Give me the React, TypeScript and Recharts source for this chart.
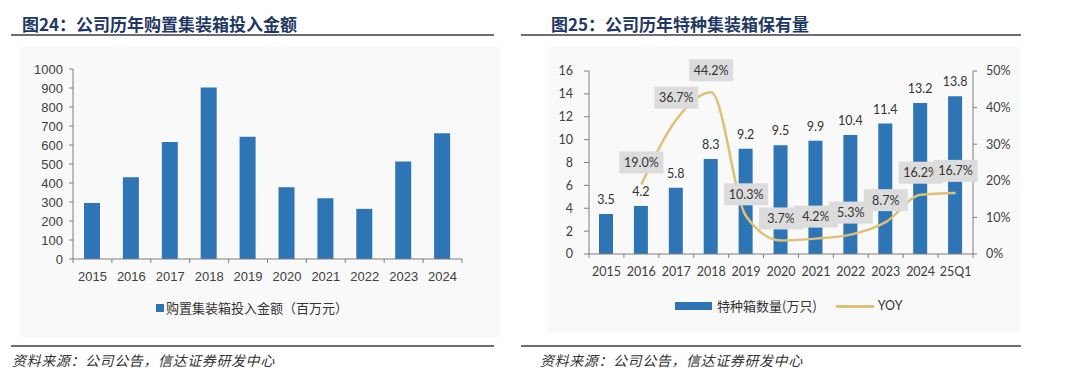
import React from "react";
import { BarChart, Bar, ComposedChart, Line, XAxis, YAxis, LabelList } from "recharts";

// 图24 data
const investYears = ["2015", "2016", "2017", "2018", "2019", "2020", "2021", "2022", "2023", "2024"];
const investAmount = [295, 430, 616, 903, 643, 377, 320, 264, 513, 662];
const investTicks = [0, 100, 200, 300, 400, 500, 600, 700, 800, 900, 1000];
const investName = "购置集装箱投入金额（百万元）";

// 图25 data
const fleetPeriods = ["2015", "2016", "2017", "2018", "2019", "2020", "2021", "2022", "2023", "2024", "25Q1"];
const fleetCount = [3.5, 4.2, 5.8, 8.3, 9.2, 9.5, 9.9, 10.4, 11.4, 13.2, 13.8];
const fleetYoy = [null, 19.0, 36.7, 44.2, 10.3, 3.7, 4.2, 5.3, 8.7, 16.2, 16.7];
const fleetTicks = [0, 2, 4, 6, 8, 10, 12, 14, 16];
const yoyTicks = [0, 10, 20, 30, 40, 50];
const fleetBarName = "特种箱数量(万只)";
const fleetLineName = "YOY";

const BLUE = "#2E75B6";
const GOLD = "#E0C074";
const AXIS = "#7F7F7F";
const TEXT = "#404040";
const TITLE = "#1F3864";
const CJK = '"Noto Sans CJK SC", sans-serif';
const ARIAL = '"Liberation Sans", Arial, sans-serif';
const CAL = 'Lato, "Noto Sans", sans-serif';

const investData = investYears.map((year, i) => ({ year, amount: investAmount[i] }));
const fleetData = fleetPeriods.map((period, i) => ({ period, count: fleetCount[i], yoy: fleetYoy[i] }));

// Excel-style ticks: marks between categories, label in the middle
function makeCategoryTick(band: number, count: number, font: string, size: number) {
  return (props: any) => {
    const { x, y, payload, index } = props;
    return (
      <g>
        <line x1={x - band / 2} x2={x - band / 2} y1={y} y2={y + 4} stroke={AXIS} />
        {index === count - 1 && (
          <line x1={x + band / 2} x2={x + band / 2} y1={y} y2={y + 4} stroke={AXIS} />
        )}
        <text x={x} y={y + 22} textAnchor="middle" fontFamily={font} fontSize={size} fill={TEXT}>
          {payload.value}
        </text>
      </g>
    );
  };
}

const yoyLabel = (props: any) => {
  const { x, y, value } = props;
  if (value == null) return null;
  return (
    <g>
      <rect x={x - 22} y={y - 33} width={44} height={22} fill="#DCDCDC" />
      <text x={x} y={y - 17.5} textAnchor="middle" fontFamily={CAL} fontSize={12.5} fill="#333">
        {`${Number(value).toFixed(1)}%`}
      </text>
    </g>
  );
};

const abs = (left: number, top: number, extra: React.CSSProperties = {}): React.CSSProperties => ({
  position: "absolute",
  left,
  top,
  ...extra,
});

function Title({ left, text }: { left: number; text: string }) {
  return (
    <div
      style={abs(left, 14, {
        fontFamily: CJK,
        fontWeight: 700,
        fontSize: 17,
        lineHeight: "20px",
        color: TITLE,
        whiteSpace: "nowrap",
      })}
    >
      {text}
    </div>
  );
}

function Rule({ left, width, top }: { left: number; width: number; top: number }) {
  return <div style={abs(left, top, { width, height: 2, background: "#6E6E6E" })} />;
}

function Source({ left }: { left: number }) {
  return (
    <div
      style={abs(left, 350, {
        fontFamily: CJK,
        fontStyle: "italic",
        fontSize: 14,
        letterSpacing: 0.6,
        lineHeight: "20px",
        color: "#333",
        whiteSpace: "nowrap",
      })}
    >
      资料来源：公司公告，信达证券研发中心
    </div>
  );
}

export default function App() {
  const leftBand = 389 / investYears.length;
  const rightBand = 384 / fleetPeriods.length;

  return (
    <div style={{ position: "absolute", left: 0, top: 0, width: 1080, height: 385, background: "#fff", overflow: "hidden" }}>
      {/* left panel */}
      <Title left={22} text="图24：公司历年购置集装箱投入金额" />
      <Rule left={11} width={483} top={34} />
      <div style={abs(20, 47, { width: 480, height: 290, background: "#F9F9F9" })}>
        <BarChart width={480} height={290} data={investData} margin={{ top: 22, right: 38, bottom: 0, left: 0 }}>
          <YAxis
            width={53}
            domain={[0, 1000]}
            ticks={investTicks}
            interval={0}
            stroke={AXIS}
            tickSize={4}
            tickMargin={6}
            tick={{ fill: TEXT, fontSize: 13, fontFamily: ARIAL }}
          />
          <XAxis
            dataKey="year"
            height={78}
            stroke={AXIS}
            tickLine={false}
            tickSize={0}
            tickMargin={0}
            interval={0}
            tick={makeCategoryTick(leftBand, investYears.length, ARIAL, 13)}
          />
          <Bar dataKey="amount" fill={BLUE} barSize={16} isAnimationActive={false} />
        </BarChart>
      </div>
      <div style={abs(156, 299, { display: "flex", alignItems: "center", whiteSpace: "nowrap" })}>
        <span style={{ width: 8, height: 8, background: BLUE, display: "inline-block", marginRight: 2 }} />
        <span style={{ fontFamily: CJK, fontSize: 13, color: "#333", lineHeight: "18px" }}>{investName}</span>
      </div>
      <Rule left={11} width={483} top={345} />
      <Source left={12} />

      {/* right panel */}
      <Title left={551} text="图25：公司历年特种集装箱保有量" />
      <Rule left={521} width={500} top={34} />
      <div style={abs(547, 47, { width: 473, height: 286, background: "#F9F9F9" })}>
        <ComposedChart width={473} height={286} data={fleetData} margin={{ top: 24, right: 0, bottom: 0, left: 0 }}>
          <YAxis
            yAxisId="count"
            width={42}
            domain={[0, 16]}
            ticks={fleetTicks}
            interval={0}
            stroke={AXIS}
            tickSize={5}
            tickMargin={11}
            tick={{ fill: TEXT, fontSize: 12.5, fontFamily: CAL }}
          />
          <YAxis
            yAxisId="yoy"
            orientation="right"
            width={47}
            domain={[0, 50]}
            ticks={yoyTicks}
            interval={0}
            stroke={AXIS}
            tickSize={4}
            tickMargin={9}
            tickFormatter={(v: number) => `${v}%`}
            tick={{ fill: TEXT, fontSize: 12.5, fontFamily: CAL, textAnchor: "start" }}
          />
          <XAxis
            dataKey="period"
            height={79}
            stroke={AXIS}
            tickLine={false}
            tickSize={0}
            tickMargin={0}
            interval={0}
            tick={makeCategoryTick(rightBand, fleetPeriods.length, CAL, 12.5)}
          />
          <Bar yAxisId="count" dataKey="count" fill={BLUE} barSize={14} isAnimationActive={false}>
            <LabelList
              dataKey="count"
              position="top"
              offset={10}
              formatter={(v: number) => v.toFixed(1)}
              style={{ fill: "#333", fontSize: 12.5, fontFamily: CAL }}
            />
          </Bar>
          <Line
            yAxisId="yoy"
            dataKey="yoy"
            type="monotone"
            stroke={GOLD}
            strokeWidth={2.5}
            dot={false}
            activeDot={false}
            isAnimationActive={false}
          >
            <LabelList dataKey="yoy" content={yoyLabel} />
          </Line>
        </ComposedChart>
      </div>
      <div style={abs(675, 297, { display: "flex", alignItems: "center", whiteSpace: "nowrap" })}>
        <span style={{ width: 37, height: 8, background: BLUE, display: "inline-block", marginRight: 5 }} />
        <span style={{ fontFamily: CJK, fontSize: 13, color: "#333", lineHeight: "18px" }}>{fleetBarName}</span>
        <span style={{ width: 38, height: 3, background: GOLD, display: "inline-block", marginLeft: 19, marginRight: 4 }} />
        <span style={{ fontFamily: CAL, fontSize: 12.5, color: "#333", lineHeight: "18px" }}>{fleetLineName}</span>
      </div>
      <Rule left={521} width={500} top={345} />
      <Source left={540} />
    </div>
  );
}
